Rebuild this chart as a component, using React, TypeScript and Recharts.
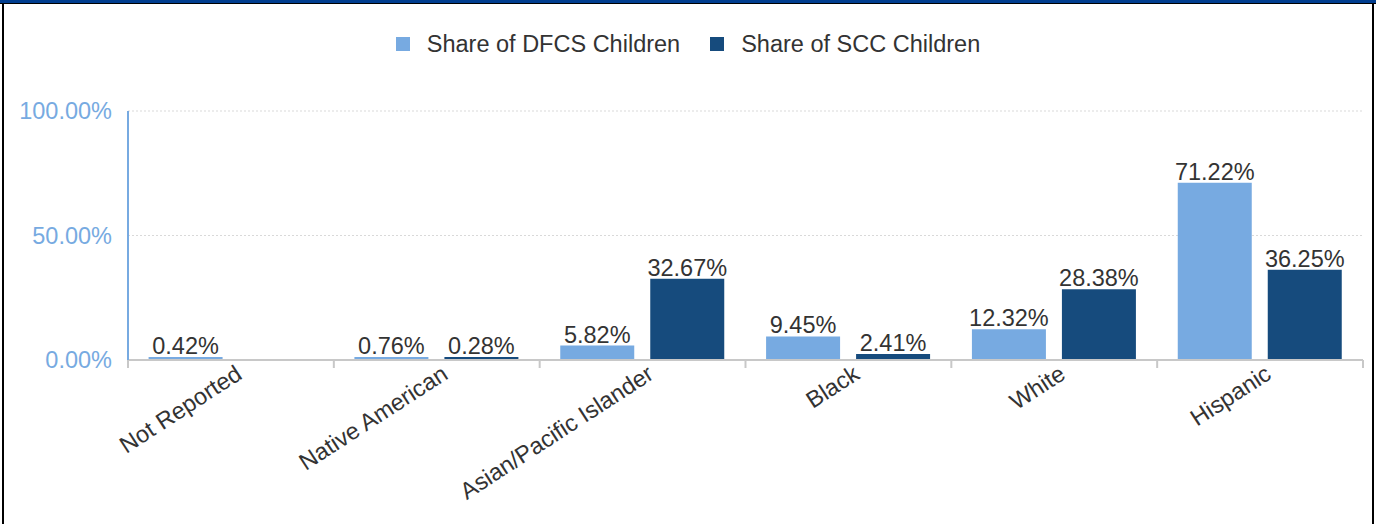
import React from 'react';
import { BarChart, Bar, XAxis, YAxis, CartesianGrid, Legend, LabelList } from 'recharts';

const categories = ['Not Reported', 'Native American', 'Asian/Pacific Islander', 'Black', 'White', 'Hispanic'];
const dfcsShare = [0.42, 0.76, 5.82, 9.45, 12.32, 71.22];
const sccShare = [null, 0.28, 32.67, 2.41, 28.38, 36.25];
const yTicks = [0, 50, 100];

const LIGHT = '#77aae1';
const DARK = '#164b7d';
const FS = 23.5;

const chartData = categories.map((name, i) => ({
    name,
    dfcs: dfcsShare[i],
    scc: sccShare[i],
}));

const pct = (v: any) => (v === null || v === undefined ? '' : `${Number(v).toFixed(2)}%`);
const minSize = (v: any) => (v === null || v === undefined ? 0 : 3);

// category label rotated, plus Excel-style tick marks on the band edges
const CategoryTick = (props: any) => {
    const { x, y, payload, index, visibleTicksCount } = props;
    const half = payload?.offset ?? 0;
    const last = index === (visibleTicksCount ?? categories.length) - 1;
    return (
        <g>
            <line x1={x - half} y1={y} x2={x - half} y2={y + 8} stroke="#c8c8c8" strokeWidth={2} />
            {last && <line x1={x + half} y1={y} x2={x + half} y2={y + 8} stroke="#c8c8c8" strokeWidth={2} />}
            <text
                x={x + 3}
                y={y + 3}
                textAnchor="end"
                fill="#333"
                fontSize={FS}
                dy="0.75em"
                transform={`rotate(-33, ${x + 3}, ${y + 3})`}
            >
                {payload.value}
            </text>
        </g>
    );
};

const LegendContent = () => (
    <div style={{ display: 'flex', justifyContent: 'center', alignItems: 'center', height: 30, paddingLeft: 13, fontSize: FS, color: '#333' }}>
        <span style={{ display: 'inline-block', width: 14, height: 14, background: LIGHT, marginRight: 17 }} />
        <span style={{ marginRight: 30 }}>Share of DFCS Children</span>
        <span style={{ display: 'inline-block', width: 14, height: 14, background: DARK, marginRight: 17 }} />
        <span>Share of SCC Children</span>
    </div>
);

const App: React.FC = () => {
    return (
        <div style={{ position: 'absolute', left: 0, top: 0, width: 1376, height: 524, background: '#fff', fontFamily: '"Liberation Sans", Arial, sans-serif', overflow: 'hidden' }}>
            <div style={{ position: 'absolute', left: 0, top: 0, width: 1376, height: 3, background: '#003d8f' }} />
            <div style={{ position: 'absolute', left: 0, top: 3, width: 1376, height: 1, background: '#000' }} />
            <div style={{ position: 'absolute', left: 2, top: 3, width: 2, height: 521, background: '#000' }} />
            <div style={{ position: 'absolute', left: 1372, top: 3, width: 2, height: 521, background: '#000' }} />
            <BarChart
                width={1376}
                height={524}
                data={chartData}
                margin={{ top: 81, right: 13, bottom: 34, left: 0 }}
                barCategoryGap="10%"
                barGap={16}
            >
                <CartesianGrid vertical={false} stroke="#d9d9d9" strokeDasharray="2 2" />
                <Legend verticalAlign="top" content={<LegendContent />} wrapperStyle={{ top: 29 }} />
                <XAxis
                    dataKey="name"
                    interval={0}
                    height={130}
                    axisLine={{ stroke: '#c8c8c8', strokeWidth: 2 }}
                    tickLine={false}
                    tickSize={0}
                    tickMargin={0}
                    tick={<CategoryTick />}
                />
                <YAxis
                    width={128}
                    domain={[0, 100]}
                    ticks={yTicks}
                    tickFormatter={pct}
                    axisLine={{ stroke: LIGHT, strokeWidth: 2 }}
                    tickLine={false}
                    tickMargin={10}
                    tick={{ fill: LIGHT, fontSize: FS }}
                />
                <Bar dataKey="dfcs" name="Share of DFCS Children" fill={LIGHT} minPointSize={minSize} isAnimationActive={false}>
                    <LabelList dataKey="dfcs" position="top" offset={3} formatter={pct} fill="#333" fontSize={FS} />
                </Bar>
                <Bar dataKey="scc" name="Share of SCC Children" fill={DARK} minPointSize={minSize} isAnimationActive={false}>
                    <LabelList dataKey="scc" position="top" offset={3} formatter={pct} fill="#333" fontSize={FS} />
                </Bar>
            </BarChart>
        </div>
    );
};

export default App;
